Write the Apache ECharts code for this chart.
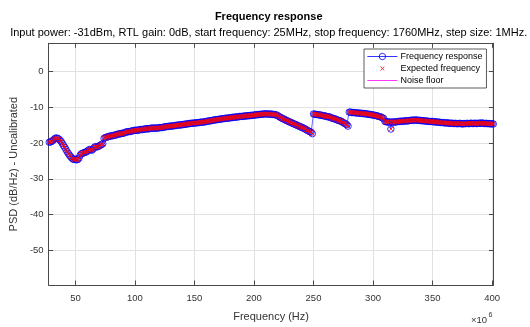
<!DOCTYPE html>
<html>
<head>
<meta charset="utf-8">
<script src="https://cdn.jsdelivr.net/npm/echarts@6/dist/echarts.min.js"></script>
<style>
html,body{margin:0;padding:0;background:#fff;}
#chart{width:530px;height:327px;}
</style>
</head>
<body>
<div id="chart"></div>
<script>
// ---- data ----
const freqStartMHz = 28;   // first plotted frequency (MHz)
const freqStepMHz = 1;     // step size (MHz)
const responseDb = [
  -19.8,-19.7,-19.6,-19.3,-19.0,-18.7,-18.6,-18.7,-18.9,-19.2,
  -19.6,-20.1,-20.7,-21.2,-21.8,-22.4,-22.9,-23.4,-23.8,-24.2,
  -24.5,-24.6,-24.5,-24.7,-24.6,-24.2,-23.4,-23.0,-22.9,-22.7,
  -22.6,-22.5,-22.3,-22.0,-21.8,-21.9,-22.0,-21.6,-21.2,-21.0,
  -21.1,-21.0,-20.8,-20.6,-20.4,-20.2,-18.7,-18.5,-18.4,-18.3,
  -18.2,-18.1,-18.0,-18.0,-17.9,-17.8,-17.8,-17.6,-17.5,-17.5,
  -17.4,-17.3,-17.3,-17.2,-17.0,-16.9,-16.9,-16.8,-16.8,-16.7,
  -16.6,-16.5,-16.5,-16.4,-16.5,-16.4,-16.3,-16.2,-16.3,-16.2,
  -16.1,-16.1,-16.0,-16.1,-16.0,-15.9,-15.9,-15.8,-15.9,-15.8,
  -15.9,-15.8,-15.8,-15.7,-15.7,-15.7,-15.6,-15.5,-15.5,-15.4,
  -15.4,-15.3,-15.3,-15.3,-15.2,-15.2,-15.1,-15.1,-15.0,-15.0,
  -15.0,-14.9,-14.9,-14.8,-14.8,-14.7,-14.7,-14.6,-14.6,-14.5,
  -14.5,-14.5,-14.4,-14.4,-14.4,-14.3,-14.3,-14.2,-14.2,-14.2,
  -14.1,-14.1,-14.0,-13.9,-13.9,-13.8,-13.8,-13.7,-13.6,-13.6,
  -13.5,-13.5,-13.4,-13.4,-13.3,-13.3,-13.2,-13.2,-13.1,-13.1,
  -13.1,-13.0,-13.0,-12.9,-12.9,-12.8,-12.8,-12.8,-12.7,-12.7,
  -12.6,-12.6,-12.6,-12.5,-12.5,-12.5,-12.4,-12.4,-12.4,-12.3,
  -12.3,-12.3,-12.2,-12.2,-12.1,-12.1,-12.1,-12.0,-12.0,-12.0,
  -11.9,-11.9,-11.9,-11.9,-11.9,-12.0,-11.9,-12.0,-12.0,-12.1,
  -12.1,-12.2,-12.4,-12.6,-12.8,-13.0,-13.2,-13.3,-13.5,-13.7,
  -13.8,-14.0,-14.1,-14.3,-14.4,-14.6,-14.7,-14.9,-15.0,-15.2,
  -15.3,-15.5,-15.6,-15.8,-15.9,-16.1,-16.3,-16.5,-16.7,-16.8,
  -17.0,-17.4,
  -11.9,-12.0,-12.0,-12.1,-12.1,-12.2,-12.2,-12.3,-12.4,-12.4,
  -12.5,-12.6,-12.7,-12.7,-12.8,-13.0,-13.1,-13.2,-13.3,-13.4,
  -13.6,-13.7,-13.8,-13.9,-14.1,-14.3,-14.5,-14.7,-14.9,-15.3,
  -11.4,-11.4,-11.5,-11.5,-11.5,-11.6,-11.6,-11.6,-11.7,-11.7,
  -11.7,-11.8,-11.8,-11.8,-11.9,-11.9,-12.0,-12.0,-12.1,-12.1,
  -12.2,-12.3,-12.3,-12.4,-12.5,-12.6,-12.7,-12.8,-13.0,-13.2,
  -14.0,-14.1,-14.1,-14.2,-14.1,-16.1,-14.2,-14.1,-14.2,-14.1,
  -14.1,-14.0,-14.0,-13.9,-14.0,-13.9,-13.9,-13.8,-13.9,-13.8,
  -13.8,-13.7,-13.7,-13.6,-13.7,-13.6,-13.6,-13.6,-13.7,-13.7,
  -13.7,-13.8,-13.8,-13.8,-13.9,-13.9,-13.9,-14.0,-14.0,-14.0,
  -14.0,-14.1,-14.1,-14.1,-14.2,-14.2,-14.2,-14.3,-14.3,-14.3,
  -14.4,-14.4,-14.4,-14.4,-14.5,-14.5,-14.5,-14.5,-14.6,-14.5,
  -14.6,-14.6,-14.6,-14.5,-14.6,-14.7,-14.6,-14.6,-14.6,-14.5,
  -14.6,-14.6,-14.5,-14.5,-14.6,-14.5,-14.5,-14.6,-14.5,-14.5,
  -14.5,-14.4,-14.5,-14.5,-14.6,-14.5,-14.6,-14.6,-14.6,-14.7,
  -14.6,-14.7
];
// expected-frequency markers sit on the same measured PSD values
const expectedDb = responseDb;
const noiseFloorDb = [];   // not visible inside the plotted range
const xTicksMHz = [50, 100, 150, 200, 250, 300, 350, 400];
const yTicksDb = [-50, -40, -30, -20, -10, 0];
const xRange = [27.5, 401.2];
const yRange = [-59.6, 7.8];

const responsePts = responseDb.map((v, i) => [freqStartMHz + i * freqStepMHz, v]);
const expectedPts = expectedDb.map((v, i) => [freqStartMHz + i * freqStepMHz, v]);

// ---- chart ----
const FONT = 'Liberation Sans, Arial, Helvetica, sans-serif';
const AX = '#4a4a4a';
const TXT = '#333333';
const X_PATH = 'path://M0,0M10,10M2.6,2.6L7.4,7.4M7.4,2.6L2.6,7.4';
const chart = echarts.init(document.getElementById('chart'), null, {renderer: 'canvas'});

function xAxisCfg(pos, show) {
  return {
    type: 'value', position: pos, min: xRange[0], max: xRange[1],
    axisLine: {show: true, onZero: false, lineStyle: {color: AX, width: 1}},
    axisTick: {show: true, inside: true, length: 4.5, customValues: xTicksMHz, lineStyle: {color: AX, width: 1}},
    axisLabel: {show: show, customValues: xTicksMHz, color: TXT, fontFamily: FONT, fontSize: 9.5, margin: 8},
    splitLine: {show: show, lineStyle: {color: '#e1e1e1', width: 1}},
    name: show ? 'Frequency (Hz)' : '', nameLocation: 'middle', nameGap: 26,
    nameTextStyle: {color: TXT, fontFamily: FONT, fontSize: 11}
  };
}
function yAxisCfg(pos, show) {
  return {
    type: 'value', position: pos, min: yRange[0], max: yRange[1],
    axisLine: {show: true, onZero: false, lineStyle: {color: AX, width: 1}},
    axisTick: {show: true, inside: true, length: 4.5, customValues: yTicksDb, lineStyle: {color: AX, width: 1}},
    axisLabel: {show: show, customValues: yTicksDb, color: TXT, fontFamily: FONT, fontSize: 9.5, margin: 5},
    splitLine: {show: show, lineStyle: {color: '#e1e1e1', width: 1}},
    name: show ? 'PSD (dB/Hz) - Uncalibrated' : '', nameLocation: 'middle', nameGap: 27,
    nameTextStyle: {color: TXT, fontFamily: FONT, fontSize: 11}
  };
}

chart.setOption({
  animation: false,
  backgroundColor: '#ffffff',
  grid: {left: 43.9, right: 36.5, top: 43.3, bottom: 35.8, containLabel: false},
  xAxis: [xAxisCfg('bottom', true), xAxisCfg('top', false)],
  yAxis: [yAxisCfg('left', true), yAxisCfg('right', false)],
  legend: {
    orient: 'vertical', left: 364, top: 49,
    padding: [3, 4, 3, 3], itemGap: 3, itemWidth: 30, itemHeight: 8,
    backgroundColor: '#fff', borderColor: '#333', borderWidth: 0.8, borderRadius: 0,
    lineStyle: {width: 0.8},
    itemStyle: {borderWidth: 0.8},
    textStyle: {fontFamily: FONT, fontSize: 9, color: '#000', padding: [0, 0, 0, -2]},
    data: [
      {name: 'Frequency response'},
      {name: 'Expected frequency', icon: X_PATH,
       itemStyle: {color: 'rgba(0,0,0,0)', borderColor: '#ff0000', borderWidth: 1}},
      {name: 'Noise floor', itemStyle: {color: 'rgba(0,0,0,0)', borderColor: 'rgba(0,0,0,0)', borderWidth: 0}}
    ]
  },
  graphic: [
    {type: 'text', x: 268.7, y: 17, silent: true,
     style: {text: 'Frequency response', align: 'center', verticalAlign: 'middle',
             font: 'bold 11px ' + FONT, fill: '#000'}},
    {type: 'text', x: 268.7, y: 32.8, silent: true,
     style: {text: 'Input power: -31dBm, RTL gain: 0dB, start frequency: 25MHz, stop frequency: 1760MHz, step size: 1MHz.',
             align: 'center', verticalAlign: 'middle', font: '11px ' + FONT, fill: '#000'}},
    {type: 'text', x: 471, y: 320, silent: true,
     style: {text: '\u00d710', verticalAlign: 'middle', font: '9.5px ' + FONT, fill: TXT}},
    {type: 'text', x: 488.5, y: 315, silent: true,
     style: {text: '6', verticalAlign: 'middle', font: '7px ' + FONT, fill: TXT}}
  ],
  series: [
    {
      name: 'Frequency response', type: 'line', xAxisIndex: 0, yAxisIndex: 0,
      data: responsePts, symbol: 'circle', symbolSize: 6.5, showSymbol: true,
      color: '#0000ff',
      lineStyle: {color: '#0000ff', width: 0.6},
      itemStyle: {color: 'rgba(0,0,0,0)', borderColor: '#0000ff', borderWidth: 0.8},
      emphasis: {disabled: true}, z: 2
    },
    {
      name: 'Expected frequency', type: 'scatter', xAxisIndex: 0, yAxisIndex: 0,
      data: expectedPts, symbol: 'path://M0,0L10,10M10,0L0,10', symbolSize: 4.5,
      color: '#ff0000',
      itemStyle: {color: 'rgba(0,0,0,0)', borderColor: '#ff0000', borderWidth: 1},
      emphasis: {disabled: true}, z: 3
    },
    {
      name: 'Noise floor', type: 'line', xAxisIndex: 0, yAxisIndex: 0,
      data: noiseFloorDb, symbol: 'none', color: '#ff00ff',
      lineStyle: {color: '#ff00ff', width: 1}, z: 4
    }
  ]
});
</script>
</body>
</html>
